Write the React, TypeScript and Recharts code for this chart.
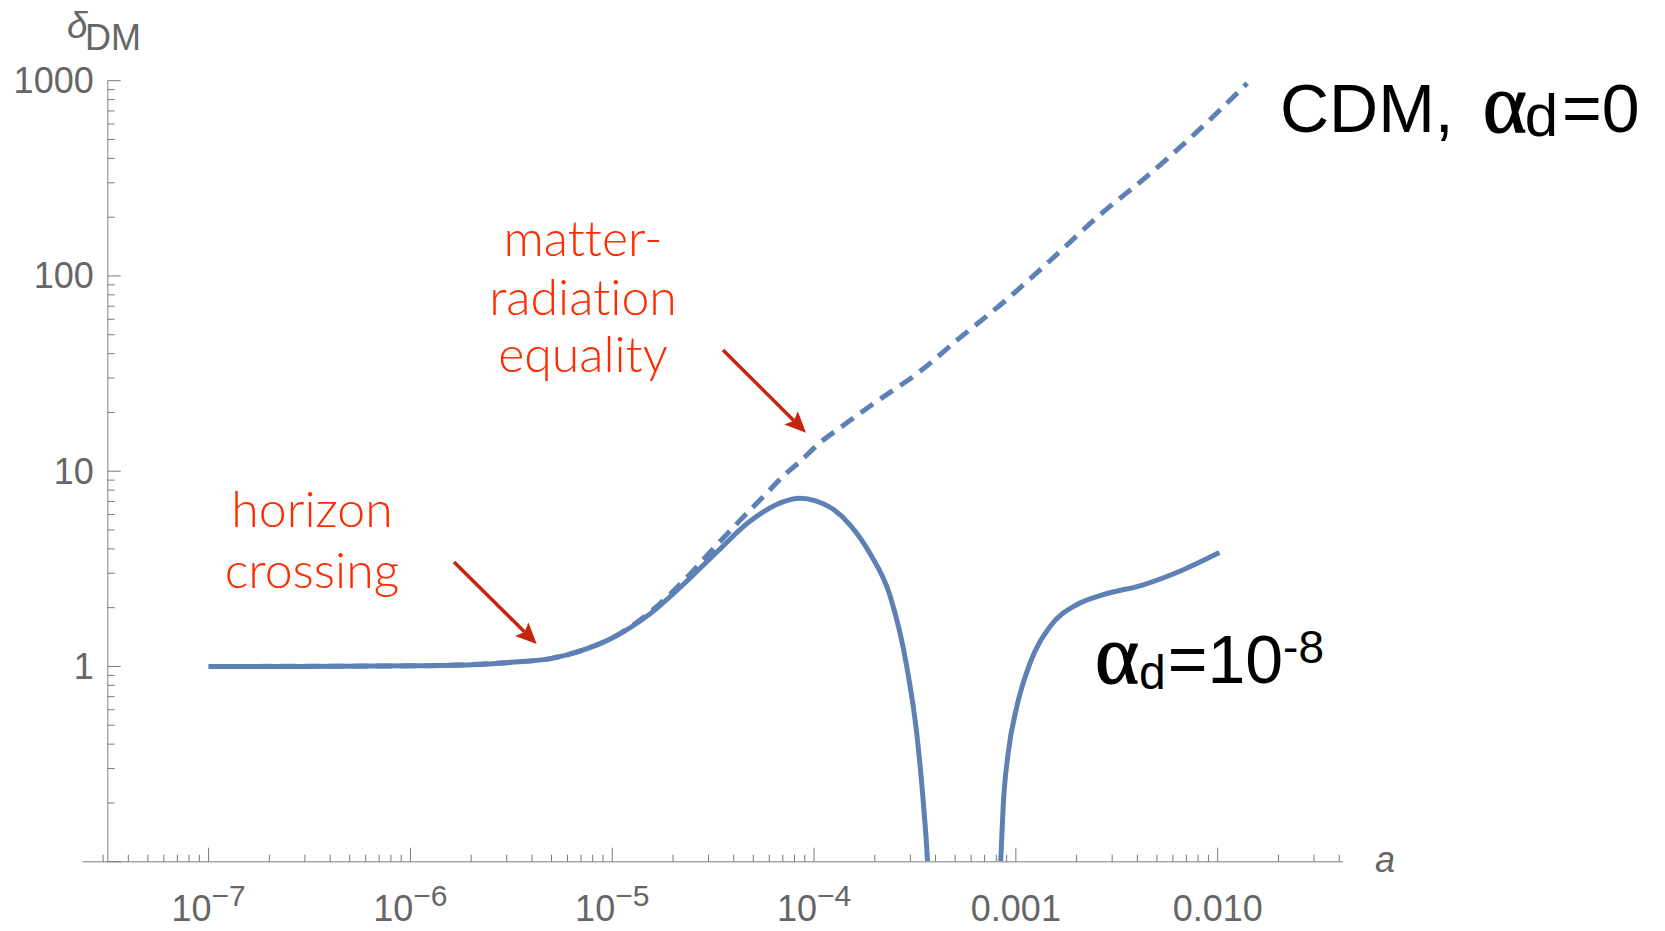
import { LineChart, Line, XAxis, YAxis, ReferenceLine } from 'recharts'

// a values (scale factor) and delta_DM
const SOLID_A = [
  1e-7, 3e-7, 1e-6, 2e-6, 3.16e-6, 5.01e-6, 7.08e-6, 1e-5, 1.55e-5, 2.24e-5,
  3.31e-5, 4.79e-5, 7.08e-5, 8.51e-5, 1.02e-4, 1.24e-4, 1.51e-4, 1.89e-4,
  2.38e-4, 2.88e-4, 3.23e-4, 3.48e-4, 3.65e-4, 3.76e-4,
  5.5e-4,
  8.15e-4, 8.41e-4, 8.67e-4, 9.16e-4, 1.01e-3, 1.175e-3, 1.476e-3, 2.0e-3,
  2.71e-3, 4.28e-3, 6.76e-3, 1.02e-2,
]
const SOLID_D: (number | null)[] = [
  1.0, 1.0, 1.007, 1.02, 1.05, 1.1, 1.21, 1.4, 1.87, 2.62,
  3.87, 5.52, 6.99, 7.27, 7.05, 6.4, 5.3, 3.8,
  2.3, 1.0, 0.45, 0.2, 0.1, 0.05,
  null,
  0.05, 0.1, 0.2, 0.36, 0.62, 1.04, 1.6, 2.07,
  2.33, 2.62, 3.13, 3.83,
]

const CDM_A = [
  1e-7, 1e-6, 3.16e-6, 5.01e-6, 7.08e-6, 1e-5, 1.55e-5, 2.24e-5, 3.02e-5,
  4.17e-5, 5.82e-5, 7.08e-5, 8.51e-5, 1.07e-4, 1.38e-4, 1.78e-4, 2.4e-4,
  3.16e-4, 5.25e-4, 8.91e-4, 1.48e-3, 2.6e-3, 4.37e-3, 7.41e-3, 1.4e-2,
]
const CDM_D = [
  1.0, 1.007, 1.05, 1.1, 1.21, 1.4, 1.91, 2.72, 3.8,
  5.42, 7.71, 9.5, 11.2, 14.0, 17.0, 20.6, 25.5,
  31, 48, 75, 120, 205, 318, 515, 970,
]

const X_MIN = 2.377e-8
const X_MAX = 4.178e-2
const Y_AXIS_AT = 3.162e-8
const Y_MIN = 0.1
const Y_MAX = 1000

const X_MAJOR = [1e-7, 1e-6, 1e-5, 1e-4, 1e-3, 1e-2]
const X_LABELS = [['10', '−7'], ['10', '−6'], ['10', '−5'], ['10', '−4'], ['0.001', ''], ['0.010', '']]
const X_DECADES = [1e-8, 1e-7, 1e-6, 1e-5, 1e-4, 1e-3, 1e-2]
const Y_MAJOR = [0.1, 1, 10, 100, 1000]
const Y_LABELS = ['', '1', '10', '100', '1000']
const Y_DECADES = [0.1, 1, 10, 100]
const MULT = [2, 3, 4, 5, 6, 7, 8, 9]

const X_TICKS = [
  ...X_MAJOR,
  ...X_DECADES.flatMap((d) => MULT.map((m) => m * d)).filter((v) => v >= X_MIN && v <= X_MAX),
]
const Y_TICKS = [...Y_MAJOR, ...Y_DECADES.flatMap((d) => MULT.map((m) => m * d))]

const solidData = SOLID_A.map((a, i) => ({ a, d: SOLID_D[i] }))
const cdmData = CDM_A.map((a, i) => ({ a, d: CDM_D[i] }))

const BLUE = '#5E81B5'
const RED_TEXT = '#FF2A00'
const RED_ARROW = '#C4250C'
const AXIS = '#A8A8A8'
const TICK = '#7A7A7A'
const LABEL = '#666666'
const SANS = '"Liberation Sans", Arial, sans-serif'
const LIGHT = 'Lato, Inter, "Liberation Sans", sans-serif'
const SERIF = '"Liberation Serif", "DejaVu Serif", serif'

const W = 1665
const H = 931
const M = { top: 80.7, right: 322, bottom: 68.3, left: 81.7 }
const PLOT_LEFT = M.left + 1
const PLOT_W = W - PLOT_LEFT - M.right
const PLOT_H = H - M.top - M.bottom - 1
const AXIS_Y = M.top + PLOT_H
const Y_AXIS_PX =
  PLOT_LEFT +
  ((Math.log10(Y_AXIS_AT) - Math.log10(X_MIN)) / (Math.log10(X_MAX) - Math.log10(X_MIN))) * PLOT_W

function XTick(props: any) {
  const { payload } = props
  const x = payload.coordinate
  const idx = X_MAJOR.indexOf(payload.value)
  const major = idx >= 0
  return (
    <g>
      <line x1={x} x2={x} y1={AXIS_Y} y2={AXIS_Y - (major ? 14 : 7)} stroke={TICK} strokeWidth={1} />
      {major && (
        <text x={x} y={AXIS_Y + 59} textAnchor="middle" fontFamily={SANS} fontSize={36} fill={LABEL}>
          {X_LABELS[idx][0]}
          {X_LABELS[idx][1] && (
            <tspan dy={-15} fontSize={30}>
              {X_LABELS[idx][1]}
            </tspan>
          )}
        </text>
      )}
    </g>
  )
}

function YTick(props: any) {
  const { payload } = props
  const y = payload.coordinate
  const idx = Y_MAJOR.indexOf(payload.value)
  const major = idx >= 0
  return (
    <g>
      <line x1={Y_AXIS_PX} x2={Y_AXIS_PX + (major ? 13 : 7)} y1={y} y2={y} stroke={TICK} strokeWidth={1} />
      {major && Y_LABELS[idx] && (
        <text x={Y_AXIS_PX - 14} y={y + 12.5} textAnchor="end" fontFamily={SANS} fontSize={36} fill={LABEL}>
          {Y_LABELS[idx]}
        </text>
      )}
    </g>
  )
}

function Arrow({ x1, y1, x2, y2 }: { x1: number; y1: number; x2: number; y2: number }) {
  const len = Math.hypot(x2 - x1, y2 - y1)
  const ux = (x2 - x1) / len
  const uy = (y2 - y1) / len
  const L = 21
  const hw = 9.5
  const notch = 4
  const bx = x2 - ux * L
  const by = y2 - uy * L
  const pts = [
    [x2, y2],
    [bx - uy * hw, by + ux * hw],
    [bx + ux * notch, by + uy * notch],
    [bx + uy * hw, by - ux * hw],
  ]
  return (
    <g>
      <line x1={x1} y1={y1} x2={bx + ux * notch} y2={by + uy * notch} stroke={RED_ARROW} strokeWidth={3.5} />
      <polygon points={pts.map((p) => p.join(',')).join(' ')} fill={RED_ARROW} />
    </g>
  )
}

export default function App() {
  return (
    <div style={{ position: 'absolute', left: 0, top: 0, width: W, height: H, background: '#fff' }}>
      <LineChart width={W} height={H} margin={M}>
        <XAxis
          dataKey="a"
          type="number"
          scale="log"
          domain={[X_MIN, X_MAX]}
          allowDataOverflow
          ticks={X_TICKS}
          interval={0}
          height={1}
          tickSize={0}
          tickMargin={0}
          tickLine={false}
          axisLine={{ stroke: AXIS, strokeWidth: 1.5 }}
          tick={(p: any) => <XTick {...p} />}
        />
        <YAxis
          type="number"
          scale="log"
          domain={[Y_MIN, Y_MAX]}
          allowDataOverflow
          ticks={Y_TICKS}
          interval={0}
          width={1}
          tickSize={0}
          tickMargin={0}
          tickLine={false}
          axisLine={false}
          tick={(p: any) => <YTick {...p} />}
        />
        <ReferenceLine x={Y_AXIS_AT} stroke={AXIS} strokeWidth={1.5} />
        <Line
          data={cdmData}
          dataKey="d"
          type="monotone"
          stroke={BLUE}
          strokeWidth={5}
          strokeDasharray="15 9"
          dot={false}
          activeDot={false}
          isAnimationActive={false}
        />
        <Line
          data={solidData}
          dataKey="d"
          type="monotone"
          stroke={BLUE}
          strokeWidth={5}
          dot={false}
          activeDot={false}
          connectNulls={false}
          isAnimationActive={false}
        />
      </LineChart>
      <svg width={W} height={H} style={{ position: 'absolute', left: 0, top: 0, pointerEvents: 'none' }}>
        <text x={67} y={38} fontFamily={SANS} fontStyle="italic" fontSize={37} fill={LABEL}>
          δ
        </text>
        <text x={85} y={50} fontFamily={SANS} fontSize={36} fill={LABEL}>
          DM
        </text>
        <text x={1375} y={872} fontFamily={SANS} fontStyle="italic" fontSize={36} fill={LABEL}>
          a
        </text>

        <text x={1280} y={131.7} fontFamily={SANS} fontSize={68} fill="#000">
          CDM,{' '}
          <tspan fontFamily={SERIF} fontSize={84} dx={10} stroke="#000" strokeWidth={1.2}>
            α
          </tspan>
          <tspan fontSize={60} dy={4} dx={-2}>
            d
          </tspan>
          <tspan dy={-4} dx={4}>=0</tspan>
        </text>
        <text x={1095} y={683} fontFamily={SANS} fontSize={68} fill="#000">
          <tspan fontFamily={SERIF} fontSize={84} stroke="#000" strokeWidth={1.2}>
            α
          </tspan>
          <tspan fontSize={48} dy={6}>
            d
          </tspan>
          <tspan dy={-6} dx={2}>=10</tspan>
          <tspan fontSize={46} dy={-20}>
            -8
          </tspan>
        </text>

        <g
          fontFamily={LIGHT}
          fontWeight={300}
          fontSize={50}
          fill={RED_TEXT}
          textAnchor="middle"
          style={{ fontVariantLigatures: 'none', fontFeatureSettings: '"liga" 0, "dlig" 0' }}
        >
          <text x={583} y={256}>matter-</text>
          <text x={583} y={315}>radiation</text>
          <text x={583} y={372}>equality</text>
          <text x={312} y={527}>horizon</text>
          <text x={312} y={588}>crossing</text>
        </g>
        <Arrow x1={454} y1={562} x2={536.7} y2={644} />
        <Arrow x1={723} y1={350} x2={806} y2={432.7} />
      </svg>
    </div>
  )
}
